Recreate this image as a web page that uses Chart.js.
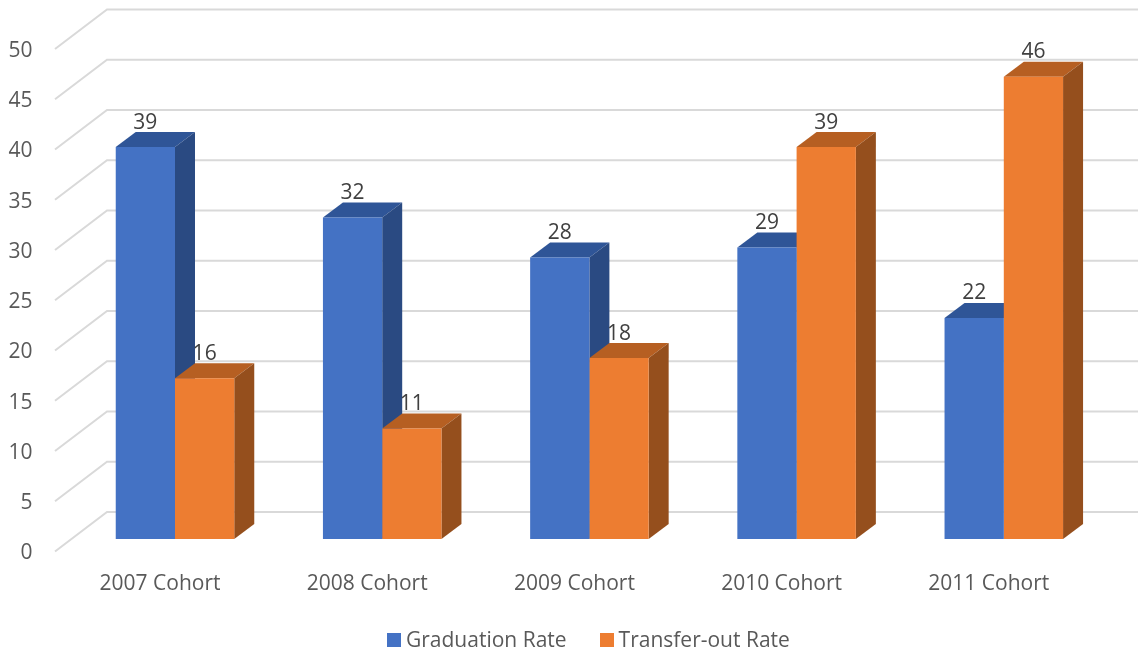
<!DOCTYPE html>
<html>
<head>
<meta charset="utf-8">
<style>
  html, body { margin: 0; padding: 0; background: #fff; }
  #wrap { position: relative; width: 1138px; height: 654px; overflow: hidden; }
  #legend { position: absolute; top: 625px; left: 387px; display: flex; font: 21px "Open Sans", sans-serif; color: #595959; line-height: 28px; white-space: nowrap; }
  #legend .item { display: flex; align-items: center; margin-right: 33px; }
  #legend .box { width: 14px; height: 14px; margin-right: 5px; position: relative; top: 1px; }
</style>
<script src="https://cdn.jsdelivr.net/npm/chart.js@4"></script>
</head>
<body>
<div id="wrap">
  <canvas id="cohortChart" width="1138" height="654"></canvas>
  <div id="legend"></div>
</div>
<script>
const cohorts = ['2007 Cohort', '2008 Cohort', '2009 Cohort', '2010 Cohort', '2011 Cohort'];
const graduationRate = [39, 32, 28, 29, 22];
const transferOutRate = [16, 11, 18, 39, 46];

const FRONT_COLORS = ['#4472C4', '#ED7D31'];
const TOP_COLORS = ['#2F5597', '#B65F22'];
const SIDE_COLORS = ['#2A4A82', '#954F1D'];
const TEXT_COLOR = '#595959';
const LABEL_COLOR = '#404040';
const FONT_FAMILY = '"Open Sans", sans-serif';

// fake 3D depth of the bars and of the back wall
const DEPTH_X = 20;
const DEPTH_Y = 15;

function polygon(ctx, points, color) {
    ctx.fillStyle = color;
    ctx.beginPath();
    points.forEach((p, i) => i ? ctx.lineTo(p[0], p[1]) : ctx.moveTo(p[0], p[1]));
    ctx.closePath();
    ctx.fill();
}

// ====================== PLUGINS ======================

const wallGrid = {
    id: 'wallGrid',
    beforeDatasetsDraw(chart) {
        const ctx = chart.ctx;
        const y = chart.scales.y;
        ctx.save();
        ctx.strokeStyle = '#D9D9D9';
        ctx.lineWidth = 2;
        y.ticks.forEach(tick => {
            const py = y.getPixelForValue(tick.value);
            ctx.beginPath();
            ctx.moveTo(55, py + 12.5);
            ctx.lineTo(107, py - 27);
            ctx.lineTo(1138, py - 27);
            ctx.stroke();
        });
        ctx.restore();
    }
};

const barFaces = {
    id: 'barFaces',
    beforeDatasetsDraw(chart) {
        const ctx = chart.ctx;
        chart.data.datasets.forEach((ds, d) => {
            chart.getDatasetMeta(d).data.forEach(bar => {
                const x0 = bar.x - bar.width / 2;
                const x1 = bar.x + bar.width / 2;
                polygon(ctx, [[x0, bar.y], [x0 + DEPTH_X, bar.y - DEPTH_Y], [x1 + DEPTH_X, bar.y - DEPTH_Y], [x1, bar.y]], TOP_COLORS[d]);
                polygon(ctx, [[x1, bar.y], [x1 + DEPTH_X, bar.y - DEPTH_Y], [x1 + DEPTH_X, bar.base - DEPTH_Y], [x1, bar.base]], SIDE_COLORS[d]);
            });
        });
    }
};

const valueLabels = {
    id: 'valueLabels',
    afterDatasetsDraw(chart) {
        const ctx = chart.ctx;
        ctx.save();
        ctx.font = '21px ' + FONT_FAMILY;
        ctx.fillStyle = LABEL_COLOR;
        ctx.textAlign = 'center';
        ctx.textBaseline = 'middle';
        chart.data.datasets.forEach((ds, d) => {
            chart.getDatasetMeta(d).data.forEach((bar, i) => {
                ctx.fillText(ds.data[i], bar.x, bar.y - 24.5);
            });
        });
        ctx.restore();
    }
};

// ====================== CHART ======================

new Chart(document.getElementById('cohortChart').getContext('2d'), {
    type: 'bar',
    data: {
        labels: cohorts,
        datasets: [
            { label: 'Graduation Rate', data: graduationRate, backgroundColor: FRONT_COLORS[0] },
            { label: 'Transfer-out Rate', data: transferOutRate, backgroundColor: FRONT_COLORS[1] }
        ]
    },
    options: {
        responsive: false,
        animation: false,
        categoryPercentage: 0.572,
        barPercentage: 1,
        layout: { padding: { top: 36.5, right: 30.6, bottom: 0, left: 0 } },
        plugins: { legend: { display: false }, tooltip: { enabled: false } },
        scales: {
            x: {
                grid: { display: false },
                border: { display: false },
                afterFit(scale) {
                    scale.height = 115;
                    scale.paddingLeft = 0;
                    scale.paddingRight = 0;
                },
                ticks: {
                    color: TEXT_COLOR,
                    font: { family: FONT_FAMILY, size: 21 },
                    labelOffset: -15,
                    padding: 24,
                    maxRotation: 0
                }
            },
            y: {
                min: 0,
                max: 50,
                grid: { display: false },
                border: { display: false },
                afterFit(scale) {
                    scale.width = 71.4;
                    scale.paddingTop = 0;
                    scale.paddingBottom = 0;
                },
                ticks: {
                    stepSize: 5,
                    color: TEXT_COLOR,
                    font: { family: FONT_FAMILY, size: 21 },
                    labelOffset: 14.5,
                    padding: 31
                }
            }
        }
    },
    plugins: [wallGrid, barFaces, valueLabels]
});

// html legend, the chart's own one cannot sit off-centre like the original
const legendEl = document.getElementById('legend');
['Graduation Rate', 'Transfer-out Rate'].forEach((name, i) => {
    const item = document.createElement('div');
    item.className = 'item';
    const box = document.createElement('span');
    box.className = 'box';
    box.style.background = FRONT_COLORS[i];
    const text = document.createElement('span');
    text.textContent = name;
    item.appendChild(box);
    item.appendChild(text);
    legendEl.appendChild(item);
});
</script>
</body>
</html>
